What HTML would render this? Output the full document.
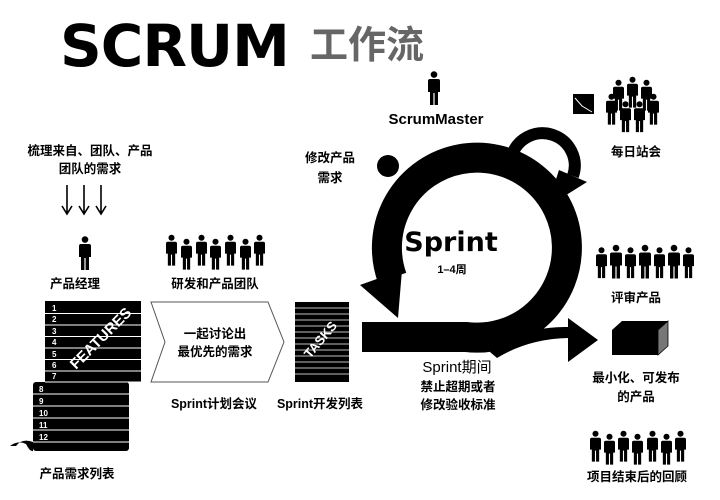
<!DOCTYPE html>
<html><head><meta charset="utf-8"><style>
html,body{margin:0;padding:0;background:#fff;width:720px;height:500px;overflow:hidden}
svg text{font-family:"Liberation Sans","Noto Sans CJK SC",sans-serif}
</style></head><body>
<svg width="720" height="500" viewBox="0 0 720 500" xmlns="http://www.w3.org/2000/svg">
<defs>
<symbol id="p" viewBox="0 0 12 34">
<circle cx="6" cy="3.6" r="3.3"/>
<path d="M2,8 H10 Q12,8 12,10 V21 H10 V34 H6.6 V22 H5.4 V34 H2 V21 H0 V10 Q0,8 2,8Z"/>
</symbol>
</defs>
<text x="60" y="66" style="font-family:'DejaVu Sans','Liberation Sans',sans-serif;font-weight:bold;font-size:58px;letter-spacing:-1px">SCRUM</text>
<text x="310" y="58" style="font-size:38px;font-weight:bold;fill:#666">工作流</text>

<!-- chevron -->
<path d="M151,302 H268 L284,342 L268,382 H151 L165,342 Z" fill="#fff" stroke="#555" stroke-width="1"/>

<g font-size="12.5" text-anchor="middle" font-weight="bold">
<text x="90" y="155">梳理来自、团队、产品</text>
<text x="90" y="173">团队的需求</text>
<text x="75" y="288">产品经理</text>
<text x="215" y="288">研发和产品团队</text>
<text x="215" y="338">一起讨论出</text>
<text x="215" y="356">最优先的需求</text>
<text x="214" y="408">Sprint计划会议</text>
<text x="320" y="408">Sprint开发列表</text>
<text x="77" y="478">产品需求列表</text>
<text x="330" y="162">修改产品</text>
<text x="330" y="182">需求</text>
<text x="636" y="156">每日站会</text>
<text x="636" y="302">评审产品</text>
<text x="636" y="382">最小化、可发布</text>
<text x="636" y="401">的产品</text>
<text x="637" y="481">项目结束后的回顾</text>
<text x="458" y="391">禁止超期或者</text>
<text x="458" y="409">修改验收标准</text>
</g>
<text x="457" y="372" font-size="15" text-anchor="middle">Sprint期间</text>
<text x="436" y="124" font-size="15" font-weight="bold" text-anchor="middle">ScrumMaster</text>

<!-- down arrows -->
<g stroke="#000" stroke-width="1.6" fill="none">
<path d="M67,185 V213 M62,206 L67,214 L72,206"/>
<path d="M84,185 V213 M79,206 L84,214 L89,206"/>
<path d="M101,185 V213 M96,206 L101,214 L106,206"/>
</g>

<!-- people -->
<use href="#p" x="79" y="236" width="12" height="34"/>
<g>
<use href="#p" x="166" y="234" width="11" height="32"/>
<use href="#p" x="181" y="238" width="11" height="32"/>
<use href="#p" x="196" y="234" width="11" height="32"/>
<use href="#p" x="210" y="238" width="11" height="32"/>
<use href="#p" x="225" y="234" width="11" height="32"/>
<use href="#p" x="240" y="238" width="11" height="32"/>
<use href="#p" x="254" y="234" width="11" height="32"/>
</g>
<use href="#p" x="428" y="71" width="12" height="34"/>
<!-- daily -->
<rect x="573" y="94" width="21" height="20" fill="#000"/>
<path d="M575,98 L582,106 L592,112" stroke="#fff" stroke-width="1" fill="none"/>
<use href="#p" x="613" y="79" width="11" height="32"/>
<use href="#p" x="627" y="76" width="11" height="32"/>
<use href="#p" x="641" y="79" width="11" height="32"/>
<use href="#p" x="606" y="93" width="11" height="32"/>
<use href="#p" x="620" y="100" width="11" height="33"/>
<use href="#p" x="634" y="100" width="11" height="33"/>
<use href="#p" x="648" y="93" width="11" height="32"/>
<!-- review -->
<use href="#p" x="596" y="245" width="11" height="35"/>
<use href="#p" x="610" y="242" width="12" height="39"/>
<use href="#p" x="625" y="245" width="11" height="35"/>
<use href="#p" x="639" y="242" width="12" height="39"/>
<use href="#p" x="654" y="245" width="11" height="35"/>
<use href="#p" x="668" y="242" width="12" height="39"/>
<use href="#p" x="683" y="245" width="11" height="35"/>
<!-- retro -->
<use href="#p" x="590" y="430" width="11" height="32"/>
<use href="#p" x="604" y="433" width="11" height="32"/>
<use href="#p" x="618" y="430" width="11" height="32"/>
<use href="#p" x="632" y="433" width="11" height="32"/>
<use href="#p" x="647" y="430" width="11" height="32"/>
<use href="#p" x="661" y="433" width="11" height="32"/>
<use href="#p" x="675" y="430" width="11" height="32"/>

<!-- features -->
<rect x="45" y="301" width="96" height="81" fill="#000"/>
<rect x="33" y="382" width="96" height="69" fill="#000" rx="3"/>
<g stroke="#fff" stroke-width="1">
<path d="M45,313.5H141M45,325H141M45,336.5H141M45,348H141M45,359.5H141M45,371H141M45,382H141"/>
<path d="M33,394H129M33,406H129M33,418H129M33,430H129M33,442H129"/>
</g>
<g font-size="8" font-weight="bold">
<text style="fill:#fff" x="52" y="311">1</text><text style="fill:#fff" x="52" y="322">2</text><text style="fill:#fff" x="52" y="334">3</text><text style="fill:#fff" x="52" y="345">4</text><text style="fill:#fff" x="52" y="357">5</text><text style="fill:#fff" x="52" y="368">6</text><text style="fill:#fff" x="52" y="379">7</text>
<text style="fill:#fff" x="39" y="392">8</text><text style="fill:#fff" x="39" y="404">9</text><text style="fill:#fff" x="39" y="416">10</text><text style="fill:#fff" x="39" y="428">11</text><text style="fill:#fff" x="39" y="440">12</text>
</g>
<text x="0" y="0" font-size="15" font-weight="bold" style="fill:#fff" transform="translate(76,370) rotate(-45)">FEATURES</text>
<path d="M10,446 Q18,440 26,444 Q30,452 33,451 L33,442 Q22,438 16,446Z" fill="#000"/>

<!-- tasks -->
<rect x="295" y="302" width="54" height="80" fill="#000"/>
<g stroke="#fff" stroke-width="0.8">
<path d="M295,308H349M295,314H349M295,320H349M295,326H349M295,332H349M295,338H349M295,344H349M295,350H349M295,356H349M295,362H349M295,368H349M295,374H349"/>
</g>
<text x="0" y="0" font-size="13" font-weight="bold" style="fill:#fff" transform="translate(310,359) rotate(-50)">TASKS</text>

<!-- sprint ring -->
<path d="M392.1,277.8 A90,90 0 1 1 466,337" fill="none" stroke="#000" stroke-width="30"/>
<path d="M402,270 L360,285 L398,318 Z" fill="#000"/>
<rect x="362" y="322" width="106" height="30" fill="#000"/>
<circle cx="388" cy="166" r="11" fill="#000"/>
<!-- small loop -->
<path d="M512,155 A32,32 0 1 1 573,176" fill="none" stroke="#000" stroke-width="12"/>
<path d="M559,170 L587,182 L547,207 Z" fill="#000"/>
<!-- outgoing arrow -->
<path d="M497,358 Q528,339 568,338 L568,362 L598,340 L568,318 L568,327 Q522,326 490,352 Z" fill="#000"/>

<text x="451" y="251" font-size="27" font-weight="bold" text-anchor="middle" style="fill:#000;font-family:'DejaVu Sans','Liberation Sans',sans-serif">Sprint</text>
<text x="452" y="273" font-size="11" font-weight="bold" text-anchor="middle">1–4周</text>

<!-- product box -->
<path d="M612,330 L622,321 H668 L658,330Z" fill="#000"/>
<path d="M658,330 L668,321 V346 L658,355Z" fill="#777" stroke="#000" stroke-width="0.8"/>
<rect x="612" y="330" width="46" height="25" fill="#000"/>
</svg>
</body></html>
